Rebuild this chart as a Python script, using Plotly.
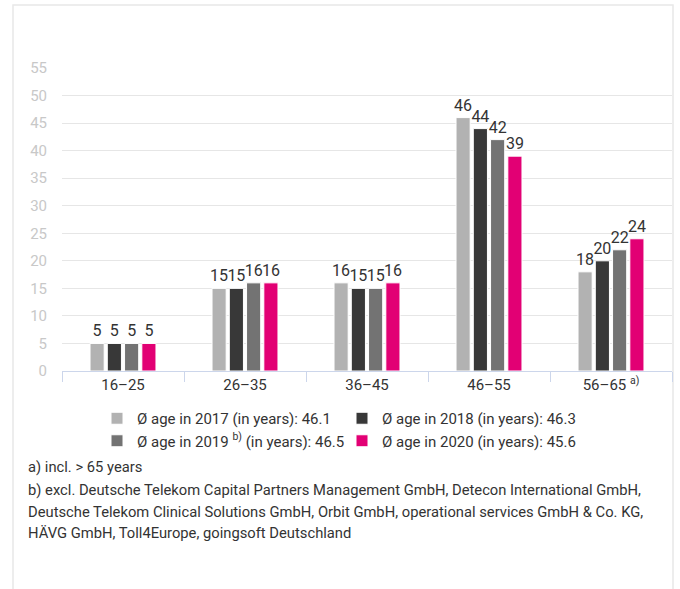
import plotly.graph_objects as go

categories = ["16–25", "26–35", "36–45", "46–55", "56–65 <sup>a)</sup>"]
series_names = [
    "Ø age in 2017 (in years): 46.1",
    "Ø age in 2018 (in years): 46.3",
    "Ø age in 2019 <sup>b)</sup> (in years): 46.5",
    "Ø age in 2020 (in years): 45.6",
]
values_2017 = [5, 15, 16, 46, 18]
values_2018 = [5, 15, 15, 44, 20]
values_2019 = [5, 16, 15, 42, 22]
values_2020 = [5, 16, 16, 39, 24]
series_values = [values_2017, values_2018, values_2019, values_2020]
colors = ["#b2b2b2", "#383838", "#737373", "#e20074"]
y_ticks = list(range(0, 60, 5))
footnotes = [
    "a) incl. > 65 years",
    "b) excl. Deutsche Telekom Capital Partners Management GmbH, Detecon International GmbH,",
    "Deutsche Telekom Clinical Solutions GmbH, Orbit GmbH, operational services GmbH & Co. KG,",
    "HÄVG GmbH, Toll4Europe, goingsoft Deutschland",
]

FONT = "Roboto"
W, H = 680, 589
L, R, T, B = 62, 8, 68, 218
pw, ph = W - L - R, H - T - B


def px_x(x):
    return (x - L) / pw


def px_y(y):
    return (H - B - y) / ph


fig = go.Figure()
for name, vals, col in zip(series_names, series_values, colors):
    fig.add_trace(go.Bar(
        x=categories, y=vals, name=name,
        marker=dict(color=col, line=dict(color="white", width=1)),
        text=vals, textposition="outside", constraintext="none", cliponaxis=False,
        textfont=dict(family=FONT, size=16, color="#333333"),
        hoverinfo="skip",
    ))

fig.update_layout(
    width=W, height=H,
    margin=dict(l=L, r=R, t=T, b=B, autoexpand=False),
    paper_bgcolor="white", plot_bgcolor="white",
    barmode="group", bargap=0.434, bargroupgap=0.18,
    font=dict(family=FONT, size=14, color="#333333"),
    showlegend=True,
    legend=dict(
        orientation="h", x=px_x(97), xanchor="left", y=px_y(402), yanchor="top",
        entrywidth=200, entrywidthmode="pixels", itemwidth=30,
        font=dict(family=FONT, size=15, color="#333333"),
        bgcolor="rgba(0,0,0,0)", tracegroupgap=0, traceorder="normal",
        itemclick=False, itemdoubleclick=False,
    ),
    xaxis=dict(
        type="category", showgrid=False, showline=True, linecolor="#ccd6eb", linewidth=1,
        ticks="outside", tickson="boundaries", ticklen=10, tickcolor="#ccd6eb",
        tickfont=dict(family=FONT, size=15, color="#333333"), fixedrange=True,
    ),
    yaxis=dict(
        range=[0, 55], tickvals=y_ticks, showgrid=True, gridcolor="#e6e6e6", gridwidth=1,
        zeroline=False, showline=False, ticks="", ticklabelstandoff=14,
        tickfont=dict(family=FONT, size=15, color="#c8c8c8"), fixedrange=True,
    ),
)

# outer frame
fig.add_shape(type="rect", xref="paper", yref="paper",
              x0=px_x(13), x1=px_x(673), y0=px_y(620), y1=px_y(5),
              line=dict(color="#e8e8e8", width=1.5), fillcolor="rgba(0,0,0,0)", layer="below")

line_y = [467, 490, 512, 533]
for txt, yy in zip(footnotes, line_y):
    fig.add_annotation(text=txt, xref="paper", yref="paper", x=px_x(26), y=px_y(yy),
                       xanchor="left", yanchor="middle", showarrow=False,
                       font=dict(family=FONT, size=14.75, color="#333333"))

fig.write_html("out.html", config={"displayModeBar": False},
               post_script="document.body.style.margin='0';document.documentElement.style.overflow='hidden';")
